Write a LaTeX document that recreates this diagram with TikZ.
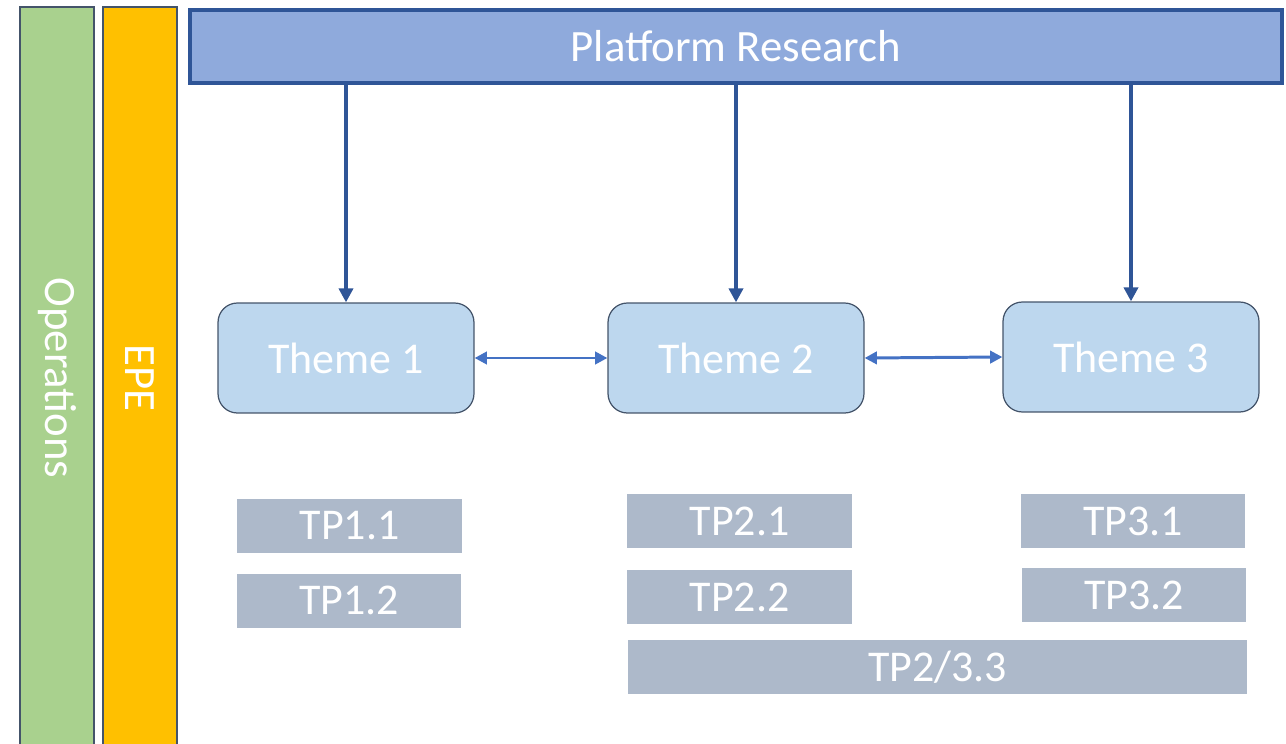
\documentclass[tikz,border=0pt]{standalone}
\usepackage{fontspec}
\setmainfont{Carlito}
\usetikzlibrary{arrows.meta}

\definecolor{opsgreen}{HTML}{A9D18E}
\definecolor{epeorange}{HTML}{FFC000}
\definecolor{prblue}{HTML}{8FAADC}
\definecolor{prborder}{HTML}{2F5597}
\definecolor{themefill}{HTML}{BDD7EE}
\definecolor{slate}{HTML}{44546A}
\definecolor{tpgrey}{HTML}{ADB9CA}
\definecolor{linkblue}{HTML}{4472C4}

\tikzset{
    sidebar/.style={draw=slate, line width=0.8pt, minimum width=1.48cm, minimum height=15.06cm,
        text=white, font=\fontsize{25.5}{30}\selectfont, inner sep=0pt},
    theme/.style={draw=slate, line width=0.7pt, fill=themefill, rounded corners=11pt,
        minimum width=5.12cm, minimum height=2.2cm, text=white, font=\fontsize{25}{30}\selectfont},
    tpbox/.style={fill=tpgrey, minimum width=4.5cm, minimum height=1.08cm, text=white,
        font=\fontsize{25}{30}\selectfont, inner sep=0pt},
    down/.style={draw=prborder, line width=2.3pt, -{Triangle[length=8pt,width=8pt]}},
    link/.style={draw=linkblue, line width=1.7pt, {Triangle[length=7pt,width=7pt]}-{Triangle[length=7pt,width=7pt]}}
}

\begin{document}
\begin{tikzpicture}[x=0.02cm, y=-0.02cm]
    \useasboundingbox (0,0) rectangle (1286,744);
    \clip (0,0) rectangle (1286,744);

    % side bars
    \node[sidebar, fill=opsgreen] (ops) at (57,383.5) {};
    \node[rotate=-90, text=white, font=\fontsize{25.5}{30}\selectfont] (opslabel) at (57,378) {Operations};
    \node[sidebar, fill=epeorange] (epe) at (140,383.5) {};
    \node[rotate=-90, text=white, font=\fontsize{25.5}{30}\selectfont] (epelabel) at (140,378) {EPE};

    % top box
    \node[draw=prborder, line width=2.2pt, fill=prblue, minimum width=21.84cm, minimum height=1.46cm,
        text=white, font=\fontsize{25.5}{30}\selectfont] (pr) at (736,46.5) {Platform Research};

    % themes
    \node[theme] (theme1) at (346,358) {Theme 1};
    \node[theme] (theme2) at (736,358) {Theme 2};
    \node[theme] (theme3) at (1131,357) {Theme 3};

    \draw[down] (pr.south -| theme1.north) -- (theme1.north);
    \draw[down] (pr.south -| theme2.north) -- (theme2.north);
    \draw[down] (pr.south -| theme3.north) -- (theme3.north);

    \draw[link] (theme1.east) -- (theme2.west);
    \draw[link] (theme2.east) -- (theme3.west);

    % work packages
    \node[tpbox] (tp11) at (349.5,526) {TP1.1};
    \node[tpbox] (tp12) at (349,600.5) {TP1.2};
    \node[tpbox] (tp21) at (739.5,521) {TP2.1};
    \node[tpbox] (tp22) at (739.5,597) {TP2.2};
    \node[tpbox] (tp31) at (1133,521) {TP3.1};
    \node[tpbox] (tp32) at (1134,595) {TP3.2};
    \node[tpbox, minimum width=12.38cm] (tp233) at (937.5,667) {TP2/3.3};
\end{tikzpicture}
\end{document}
